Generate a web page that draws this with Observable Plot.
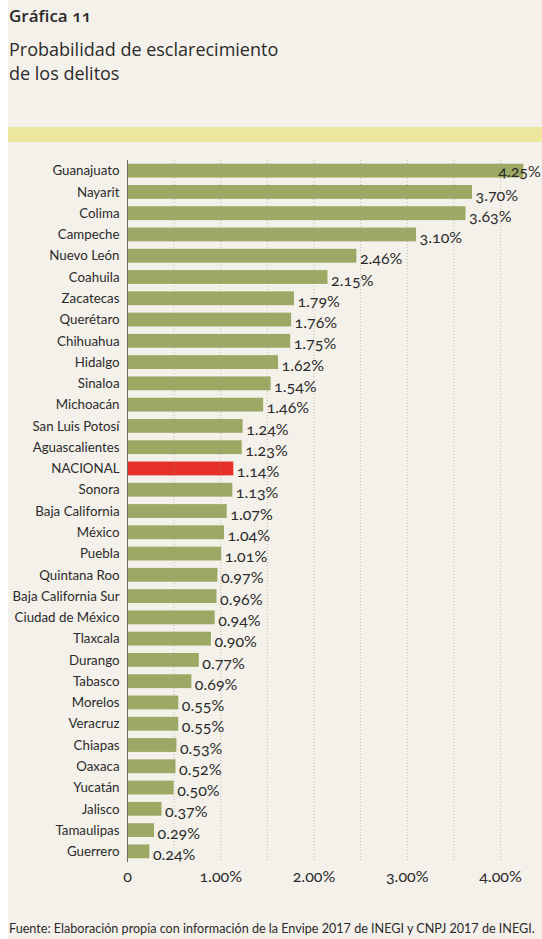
<!DOCTYPE html>
<html>
<head>
<meta charset="utf-8">
<script src="https://cdn.jsdelivr.net/npm/d3@7"></script>
<script src="https://cdn.jsdelivr.net/npm/@observablehq/plot@0.6"></script>
<style>
  html, body { margin: 0; padding: 0; background: #ffffff; }
  #wrap { position: relative; width: 542px; height: 939px; overflow: hidden; background: #ffffff; font-family: Lato, "Open Sans", sans-serif; color: #2b2b2b; }
  #panel { position: absolute; left: 8px; top: 0; width: 534px; height: 939px; background: #f4f1ea; }
  #kicker { position: absolute; left: 9px; top: 4px; font-size: 17px; font-weight: 600; font-family: "Open Sans", sans-serif; }
  #title { position: absolute; left: 9px; top: 37px; font-size: 18px; line-height: 24px; font-family: "Open Sans", sans-serif; }
  #band { position: absolute; left: 8px; top: 127px; width: 534px; height: 15px; background: #ece69f; }
  #chart { position: absolute; left: 0; top: 150px; }
  #source { position: absolute; left: 9px; top: 921px; font-size: 12.6px; font-family: Lato, sans-serif; white-space: nowrap; }
  svg text { font-variant-numeric: oldstyle-nums; }
</style>
</head>
<body>
<div id="wrap">
  <div id="panel"></div>
  <div id="kicker">Gráfica <span style="font-variant-numeric: oldstyle-nums;">11</span></div>
  <div id="title">Probabilidad de esclarecimiento<br>de los delitos</div>
  <div id="band"></div>
  <div id="chart"></div>
  <div id="source">Fuente: Elaboración propia con información de la Envipe 2017 de INEGI y CNPJ 2017 de INEGI.</div>
</div>
<script>
const states = ["Guanajuato","Nayarit","Colima","Campeche","Nuevo León","Coahuila","Zacatecas","Querétaro","Chihuahua","Hidalgo","Sinaloa","Michoacán","San Luis Potosí","Aguascalientes","NACIONAL","Sonora","Baja California","México","Puebla","Quintana Roo","Baja California Sur","Ciudad de México","Tlaxcala","Durango","Tabasco","Morelos","Veracruz","Chiapas","Oaxaca","Yucatán","Jalisco","Tamaulipas","Guerrero"];
const values = [4.25,3.70,3.63,3.10,2.46,2.15,1.79,1.76,1.75,1.62,1.54,1.46,1.24,1.23,1.14,1.13,1.07,1.04,1.01,0.97,0.96,0.94,0.90,0.77,0.69,0.55,0.55,0.53,0.52,0.50,0.37,0.29,0.24];
const highlight = "NACIONAL";
const xTicks = [0,1,2,3,4];
const xTickLabels = ["0","1.00%","2.00%","3.00%","4.00%"];
const gridTicks = [0.5,1,1.5,2,2.5,3,3.5,4];

const data = states.map((s, i) => ({state: s, value: values[i]}));
const maxValue = d3.max(values);
const innerRows = data.filter(d => d.value !== maxValue);
const topRows = data.filter(d => d.value === maxValue);

const chart = Plot.plot({
  width: 542,
  height: 750,
  marginLeft: 127,
  marginRight: 42,
  marginTop: 10,
  marginBottom: 38,
  style: {background: "transparent", fontFamily: "Lato, 'Open Sans', sans-serif", color: "#2b2b2b"},
  x: {domain: [0, 4], axis: null, label: null},
  y: {domain: states, paddingInner: 0.35, paddingOuter: 0.175, round: false, axis: null, label: null},
  marks: [
    Plot.barX(data, {x: "value", y: "state", fill: d => d.state === highlight ? "#e5302a" : "#9ba964"}),
    Plot.ruleX(gridTicks, {stroke: "#9a9a8a", strokeOpacity: 0.6, strokeDasharray: "1,2", strokeWidth: 1}),
    Plot.ruleX([0], {stroke: "#6b6b60", strokeWidth: 1}),
    Plot.axisY({tickSize: 0, tickPadding: 8, fontSize: 13.3, label: null}),
    Plot.axisX({ticks: xTicks, tickFormat: d => xTickLabels[xTicks.indexOf(d)], tickSize: 0, tickPadding: 8, fontSize: 16, label: null}),
    Plot.text(innerRows, {x: "value", y: "state", text: d => d.value.toFixed(2) + "%", textAnchor: "start", dx: 3, dy: 3, fontSize: 16, fill: "#2b2b2b"}),
    Plot.text(topRows, {x: "value", y: "state", text: d => d.value.toFixed(2) + "%", textAnchor: "end", dx: 17, dy: 1, fontSize: 16, fill: "#2b2b2b"})
  ]
});
document.getElementById("chart").appendChild(chart);
</script>
</body>
</html>
